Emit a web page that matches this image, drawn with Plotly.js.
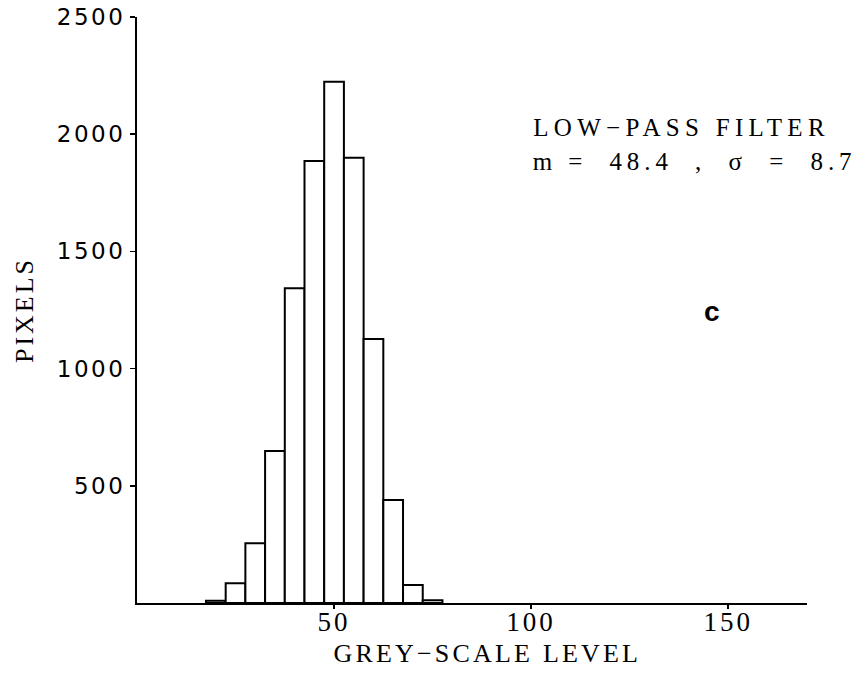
<!DOCTYPE html>
<html>
<head>
<meta charset="utf-8">
<script src="https://cdn.plot.ly/plotly-3.0.1.min.js"></script>
<style>
  html, body { margin: 0; padding: 0; background: #ffffff; }
  #chart { width: 861px; height: 673px; }
  g.ytick text { letter-spacing: 2.5px !important; }
  g.xtick text { letter-spacing: 3px !important; }
  text.ytitle { letter-spacing: 3px !important; }
  g.annotation[data-index="0"] text { letter-spacing: 5.3px !important; }
  g.annotation[data-index="1"] text { letter-spacing: 4.9px !important; }
  g.annotation[data-index="3"] text { letter-spacing: 3.2px !important; }
</style>
</head>
<body>
<div id="chart"></div>
<script>
// Histogram of grey-scale levels after low-pass filter (bin width 5)
const binCenters = [20, 25, 30, 35, 40, 45, 50, 55, 60, 65, 70, 75];
const pixelCounts = [10, 84, 255, 648, 1343, 1886, 2224, 1900, 1126, 439, 77, 12];
const binWidth = 5;
const xTickVals = [50, 100, 150];
const xTickText = ["50", "100", "150"];
const yTickVals = [500, 1000, 1500, 2000, 2500];
const yTickText = ["500", "1000", "1500", "2000", "2500"];
const xTitle = "GREY\u2212SCALE LEVEL";
const yTitle = "PIXELS";
const noteLine1 = "LOW\u2212PASS FILTER";
const noteLine2 = "m\u00A0=\u00A0\u00A048.4\u00A0\u00A0,\u00A0\u00A0\u03C3\u00A0\u00A0=\u00A0\u00A08.7";
const panelLabel = "c";

const serif = "Liberation Serif, Times New Roman, serif";

const trace = {
  type: "bar",
  x: binCenters,
  y: pixelCounts,
  width: binCenters.map(() => binWidth),
  marker: { color: "#ffffff", line: { color: "#000000", width: 2 } },
  hoverinfo: "x+y",
  showlegend: false
};

const layout = {
  width: 861,
  height: 673,
  margin: { l: 137, r: 54, t: 17, b: 70 },
  paper_bgcolor: "#ffffff",
  plot_bgcolor: "#ffffff",
  bargap: 0,
  xaxis: {
    range: [0, 170],
    tickvals: xTickVals,
    ticktext: xTickText,
    ticks: "outside",
    ticklen: 4,
    tickwidth: 1.5,
    tickcolor: "#000000",
    ticklabelstandoff: -10,
    showline: true,
    linecolor: "#000000",
    linewidth: 2,
    showgrid: false,
    zeroline: false,
    tickfont: { family: serif, size: 27, color: "#000000" }
  },
  yaxis: {
    range: [0, 2500],
    tickvals: yTickVals,
    ticktext: yTickText,
    ticks: "outside",
    ticklen: 5,
    tickwidth: 1.5,
    tickcolor: "#000000",
    showline: true,
    linecolor: "#000000",
    linewidth: 2,
    showgrid: false,
    zeroline: false,
    tickfont: { family: "DejaVu Sans, sans-serif", size: 23, color: "#000000" },
    title: { text: yTitle, font: { family: serif, size: 26, color: "#000000" }, standoff: 16 }
  },
  annotations: [
    {
      xref: "paper", yref: "paper", x: 0.8134, y: 0.8106,
      xanchor: "center", yanchor: "middle", showarrow: false,
      text: noteLine1,
      font: { family: serif, size: 25, color: "#000000" }
    },
    {
      xref: "paper", yref: "paper", x: 0.832, y: 0.754,
      xanchor: "center", yanchor: "middle", showarrow: false,
      text: noteLine2,
      font: { family: serif, size: 25, color: "#000000" }
    },
    {
      xref: "paper", yref: "paper", x: 0.858, y: 0.4966,
      xanchor: "center", yanchor: "middle", showarrow: false,
      text: "<b>" + panelLabel + "</b>",
      font: { family: "Liberation Sans, Arial, sans-serif", size: 28, color: "#000000" }
    },
    {
      // x-axis title
      xref: "paper", yref: "paper", x: 0.5224, y: -0.087,
      xanchor: "center", yanchor: "middle", showarrow: false,
      text: xTitle,
      font: { family: serif, size: 26, color: "#000000" }
    }
  ]
};

Plotly.newPlot("chart", [trace], layout, { displayModeBar: false, staticPlot: true });
</script>
</body>
</html>
